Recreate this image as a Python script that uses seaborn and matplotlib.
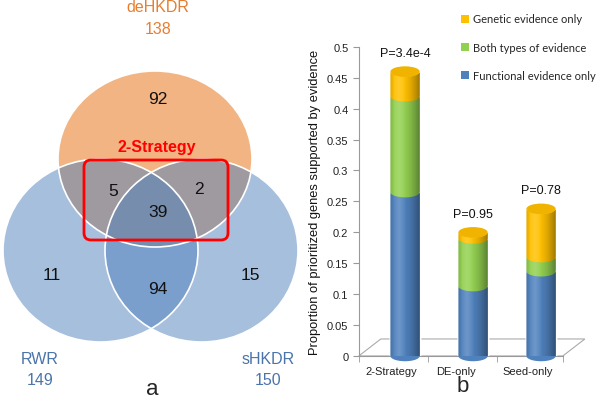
import numpy as np
import pandas as pd
import seaborn as sns
import matplotlib.pyplot as plt
from matplotlib.patches import Ellipse, FancyBboxPatch, Polygon
from matplotlib.lines import Line2D
from matplotlib.colors import to_rgb

# --- panel a : Venn counts ---
set_names = ["deHKDR", "RWR", "sHKDR"]
set_sizes = [138, 149, 150]
# deHKDR only, de&RWR, de&sHKDR, all three, RWR only, RWR&sHKDR, sHKDR only
region_counts = [92, 5, 2, 39, 11, 94, 15]

# --- panel b : proportion of prioritized genes ---
strategies = ["2-Strategy", "DE-only", "Seed-only"]
functional_only = [0.265, 0.113, 0.137]
both_types = [0.155, 0.077, 0.023]
genetic_only = [0.040, 0.010, 0.078]
p_labels = ["P=3.4e-4", "P=0.95", "P=0.78"]
y_ticks = [0, 0.05, 0.1, 0.15, 0.2, 0.25, 0.3, 0.35, 0.4, 0.45, 0.5]

sns.set_style("white")
plt.rcParams['font.family'] = ['Liberation Sans', 'DejaVu Sans']

fig = plt.figure(figsize=(6, 4.02), dpi=100)

# ---------------- Venn (pixel coordinates) ----------------
ax = fig.add_axes([0, 0, 0.5, 1])
ax.set_xlim(0, 300)
ax.set_ylim(402, 0)
ax.axis('off')

orange = '#F1B482'
blue = '#4F81BD'
circles = [((155, 160), 194, 176), ((100.5, 251.5), 195, 183), ((201.5, 251.5), 193, 183)]
ax.add_patch(Ellipse(*circles[0], facecolor=orange, edgecolor='none'))
for c in circles[1:]:
    ax.add_patch(Ellipse(*c, facecolor=blue, alpha=0.5, edgecolor='none'))
# white outlines on top
for c in circles:
    ax.add_patch(Ellipse(*c, facecolor='none', edgecolor='white', lw=1.2))

region_pos = [(158, 100), (113, 192), (199, 190), (158, 213), (52, 276), (158, 290), (250, 276)]
for (x, y), n in zip(region_pos, region_counts):
    ax.text(x, y, str(n), ha='center', va='center', fontsize=12.5, color='#111111')

# 2-Strategy box
ax.add_patch(FancyBboxPatch((84, 161), 144, 80, boxstyle='round,pad=0,rounding_size=7',
                            facecolor='none', edgecolor='#FF0000', lw=2))
ax.text(157, 148, "2-Strategy", ha='center', va='center', fontsize=11.5,
        fontweight='bold', color='#FF0000')

label_pos = [(158, 8, '#E67E30'), (40, 360, '#4A74AA'), (268, 360, '#4A74AA')]
for (x, y, col), name, size in zip(label_pos, set_names, set_sizes):
    ax.text(x, y, name, ha='center', va='center', fontsize=11.5, color=col)
    ax.text(x, y + 21, str(size), ha='center', va='center', fontsize=11.5, color=col)

ax.text(152, 390, "a", ha='center', va='center', fontsize=16)

# ---------------- stacked cylinder bars ----------------
df = pd.DataFrame({"strategy": strategies, "functional": functional_only,
                   "both": both_types, "genetic": genetic_only})
df["fb"] = df["functional"] + df["both"]
df["total"] = df["fb"] + df["genetic"]

axb = fig.add_axes([0.598, 0.112, 0.34, 0.769])
c_yel, c_grn, c_blu = '#FFC000', '#92D050', '#4F81BD'
bw = 0.43
for col, color in [("total", c_yel), ("fb", c_grn), ("functional", c_blu)]:
    sns.barplot(data=df, x="strategy", y=col, color=color, width=bw, saturation=1,
                errorbar=None, order=strategies, ax=axb, zorder=2)

eh = 0.017  # ellipse height in data units
xs = np.linspace(0, 1, 64)
shade = np.zeros((1, 64, 4))
shade[0, :, 3] = 0.38 * np.clip((xs - 0.4) / 0.6, 0, 1) ** 1.6 + 0.12 * np.clip((0.15 - xs) / 0.15, 0, 1)
hi = np.zeros((1, 64, 4))
hi[0, :, :3] = 1
hi[0, :, 3] = 0.18 * np.clip(1 - np.abs(xs - 0.3) / 0.25, 0, 1)

t = np.linspace(np.pi, 2 * np.pi, 40)
for i, row in df.iterrows():
    segs = [(0, row.functional, c_blu), (row.functional, row.fb, c_grn), (row.fb, row.total, c_yel)]
    for lo, top, color in segs:
        if top - lo <= 0:
            continue
        arc_x = i + bw / 2 * np.cos(t)
        pts = np.r_[np.c_[arc_x, lo + eh / 2 * np.sin(t)],
                    np.c_[arc_x[::-1], top + eh / 2 * np.sin(t[::-1])]]
        body = Polygon(pts, closed=True, facecolor=color, edgecolor='none', zorder=3, clip_on=False)
        axb.add_patch(body)
        ext = (i - bw / 2, i + bw / 2, lo - eh / 2, top)
        for arr in (shade, hi):
            im = axb.imshow(arr, extent=ext, aspect='auto', zorder=4, interpolation='bilinear')
            im.set_clip_path(body)
    top_col = np.array(to_rgb(segs[-1][2])) * 0.94
    axb.add_patch(Ellipse((i, row.total), bw, eh, facecolor=top_col, edgecolor='none', zorder=5))
    axb.text(i, row.total + 0.03, p_labels[i], ha='center', va='center', fontsize=9, color='#111111')

axb.set_xlim(-0.68, 2.32)
axb.set_ylim(0, 0.5)
axb.set_yticks(y_ticks)
axb.set_yticklabels([f"{v:g}" for v in y_ticks])
axb.set_xticks([-0.195, 0.746, 1.805])
axb.set_xticklabels(strategies)
axb.set_xticks([-0.68, 0.335, 1.35, 2.32], minor=True)
axb.tick_params(axis='x', which='major', length=0, pad=7, labelsize=8, labelcolor='#222222')
axb.tick_params(axis='x', which='minor', length=4, direction='out', color='#999999', bottom=True)
axb.tick_params(axis='y', length=4, direction='out', color='#999999', labelsize=8,
                labelcolor='#222222', left=True)
axb.set_xlabel("")
axb.set_ylabel("Proportion of prioritized genes supported by evidence", fontsize=9.3,
               labelpad=4, color='#111111')
for s in ['top', 'right']:
    axb.spines[s].set_visible(False)
for s in ['left', 'bottom']:
    axb.spines[s].set_color('#999999')
    axb.spines[s].set_linewidth(0.8)

# floor
floor = Polygon([(0, 0), (1, 0), (1.108, 0.055), (0.108, 0.055)], closed=True,
                transform=axb.transAxes, facecolor='none', edgecolor='#AAAAAA', lw=0.8,
                zorder=1, clip_on=False)
axb.add_patch(floor)

handles = [Line2D([], [], ls='none', marker='s', markersize=5.5, color=c, markeredgewidth=0)
           for c in [c_yel, c_grn, c_blu]]
fig.legend(handles, ["Genetic evidence only", "Both types of evidence", "Functional evidence only"],
           loc='upper left', bbox_to_anchor=(0.762, 0.975), frameon=False,
           prop={'family': 'Lato', 'size': 8}, labelspacing=1.55,
           handlelength=0.6, handletextpad=0.45, borderaxespad=0)

fig.text(463 / 600, 1 - 387 / 402, "b", ha='center', va='center', fontsize=16)

fig.savefig("out.png", dpi=100)
